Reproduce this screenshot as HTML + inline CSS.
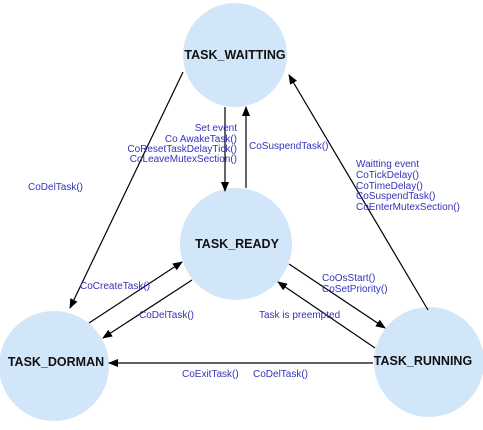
<!DOCTYPE html>
<html><head><meta charset="utf-8"><style>
body{margin:0;background:#fff;width:483px;height:425px;overflow:hidden}
svg text{font-family:"Liberation Sans",sans-serif}
.l{fill:#3333bb;font-size:10px}
.n{font-weight:bold;font-size:12.5px;fill:#111}
</style></head><body>
<svg width="483" height="425" viewBox="0 0 483 425">
<defs><marker id="a" markerWidth="10" markerHeight="8" refX="9" refY="4" orient="auto" markerUnits="userSpaceOnUse"><path d="M0,0 L10,4 L0,8 z" fill="#000"/></marker></defs>
<circle cx="235" cy="55" r="52" fill="#d2e6fa"/>
<circle cx="236" cy="244" r="56" fill="#d2e6fa"/>
<circle cx="54" cy="366" r="55" fill="#d2e6fa"/>
<circle cx="429" cy="362" r="55" fill="#d2e6fa"/>
<g stroke="#000" stroke-width="1.2" fill="none">
<line x1="183" y1="72" x2="70" y2="308" marker-end="url(#a)"/>
<line x1="428" y1="310" x2="289" y2="75" marker-end="url(#a)"/>
<line x1="225" y1="107" x2="225" y2="191" marker-end="url(#a)"/>
<line x1="246" y1="188" x2="246" y2="107" marker-end="url(#a)"/>
<line x1="289" y1="264" x2="385" y2="328" marker-end="url(#a)"/>
<line x1="375" y1="348" x2="278" y2="282" marker-end="url(#a)"/>
<line x1="89" y1="323" x2="182" y2="262" marker-end="url(#a)"/>
<line x1="192" y1="280" x2="103" y2="338" marker-end="url(#a)"/>
<line x1="373" y1="363" x2="109" y2="363" marker-end="url(#a)"/>
</g>
<text class="n" x="235" y="59" text-anchor="middle">TASK_WAITTING</text>
<text class="n" x="237" y="248" text-anchor="middle">TASK_READY</text>
<text class="n" x="56" y="366" text-anchor="middle">TASK_DORMAN</text>
<text class="n" x="423" y="365" text-anchor="middle">TASK_RUNNING</text>
<g class="l">
<text x="237" y="131" text-anchor="end">Set event</text>
<text x="237" y="142" text-anchor="end">Co AwakeTask()</text>
<text x="237" y="152" text-anchor="end">CoResetTaskDelayTick()</text>
<text x="237" y="162" text-anchor="end">CoLeaveMutexSection()</text>
<text x="249" y="149">CoSuspendTask()</text>
<text x="28" y="190">CoDelTask()</text>
<text x="356" y="167">Waitting event</text>
<text x="356" y="178">CoTickDelay()</text>
<text x="356" y="189">CoTimeDelay()</text>
<text x="356" y="199">CoSuspendTask()</text>
<text x="356" y="210">CoEnterMutexSection()</text>
<text x="322" y="281">CoOsStart()</text>
<text x="322" y="292">CoSetPriority()</text>
<text x="259" y="318">Task is preempted</text>
<text x="80" y="289">CoCreateTask()</text>
<text x="139" y="318">CoDelTask()</text>
<text x="182" y="377">CoExitTask()</text>
<text x="253" y="377">CoDelTask()</text>
</g>
</svg>
</body></html>
